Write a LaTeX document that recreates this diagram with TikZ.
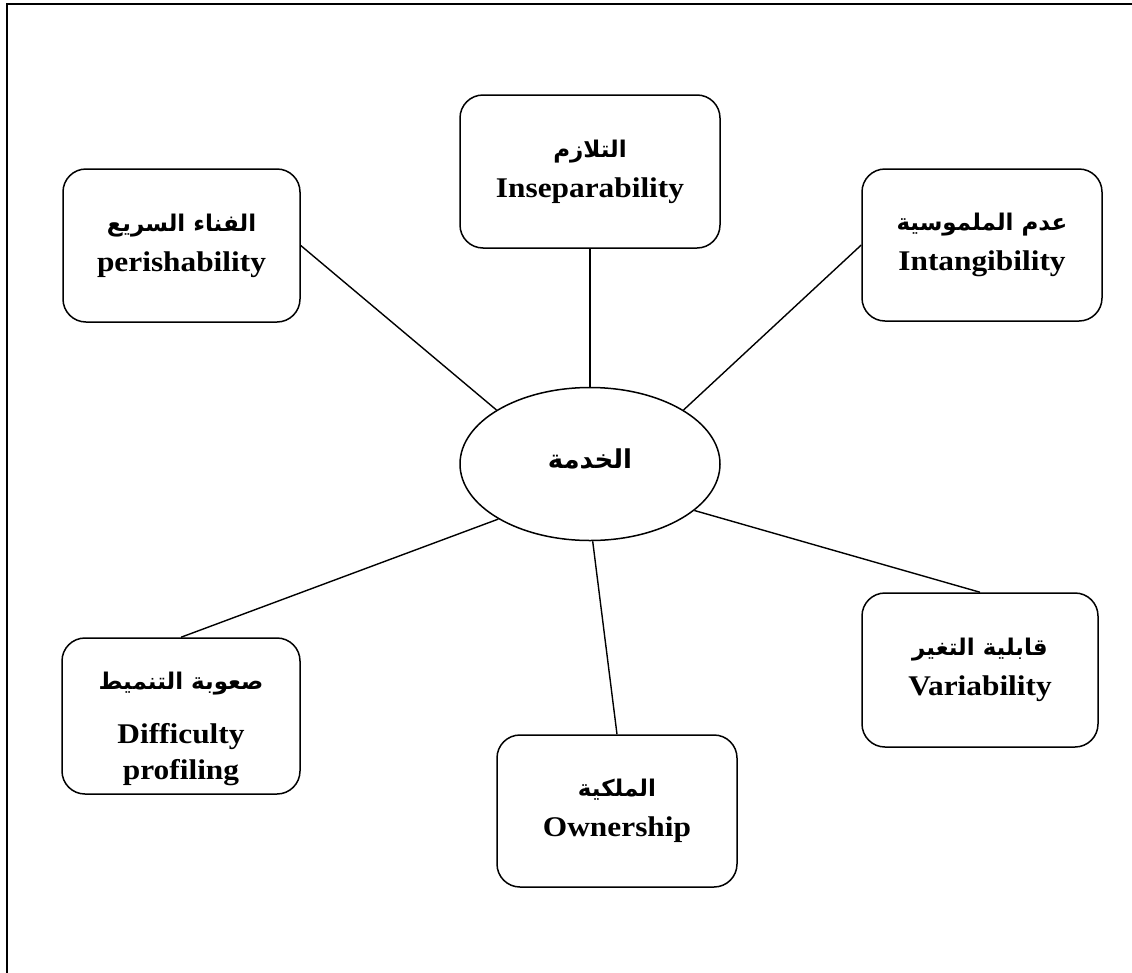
\documentclass[tikz,border=0pt]{standalone}
\usepackage{fontspec}
\setmainfont[FakeStretch=1.1]{Liberation Serif}
\newfontfamily\arabicfont[Script=Arabic]{DejaVu Sans}
\TeXXeTstate=1
\usetikzlibrary{shapes.geometric}
% Arabic caption, bold, set right to left
\newcommand{\artext}[2][23]{{\arabicfont\bfseries\fontsize{#1}{40}\selectfont\beginR #2\endR}}
\begin{document}
\begin{tikzpicture}[x=1pt,y=-1pt,
  feature/.style={draw, line width=1.5pt, rounded corners=23pt, align=center,
    inner sep=0pt, font=\fontsize{28.5}{40}\selectfont\bfseries},
  hub/.style={draw, ellipse, line width=1.5pt, inner sep=0pt,
    minimum width=260pt, minimum height=153pt},
  link/.style={line width=1.4pt}]
\useasboundingbox (0,0) rectangle (1132,972);
\fill[white] (0,0) rectangle (1132,972);
% page frame
\draw[line width=2.2pt, line join=miter] (7,975) -- (7,4) -- (1135,4);

% centre
\node[hub] (ell) at (590,464) {\raisebox{10pt}{\artext[26]{الخدمة}}};

% characteristics
\node[feature, minimum width=260pt, minimum height=153pt] (ins) at (590,171.5)
  {\artext{التلازم}\\Inseparability};
\node[feature, minimum width=237pt, minimum height=153pt] (per) at (181.5,245.5)
  {\artext{الفناء السريع}\\perishability};
\node[feature, minimum width=240pt, minimum height=152pt] (itg) at (982,245)
  {\artext{عدم الملموسية}\\Intangibility};
\node[feature, minimum width=236pt, minimum height=154pt] (var) at (980,670)
  {\artext{قابلية التغير}\\Variability};
\node[feature, minimum width=238pt, minimum height=156pt] (dif) at (181,716)
  {\raisebox{-10pt}[\height][\depth]{\begin{tabular}{@{}c@{}}
     \artext{صعوبة التنميط}\\[14pt]Difficulty\\[-4pt]profiling
   \end{tabular}}};
\node[feature, minimum width=240pt, minimum height=152pt] (own) at (617,811)
  {\artext{الملكية}\\Ownership};

% spokes
\draw[link] (ins.south) -- (ell.north);
\draw[link] (per.east) -- (ell.150);
\draw[link] (itg.west) -- (ell.30);
\draw[link] (var.north) -- (ell.-24);
\draw[link] (dif.north) -- (ell.-149);
\draw[link] (own.north) -- (ell.-88);
\end{tikzpicture}
\end{document}
